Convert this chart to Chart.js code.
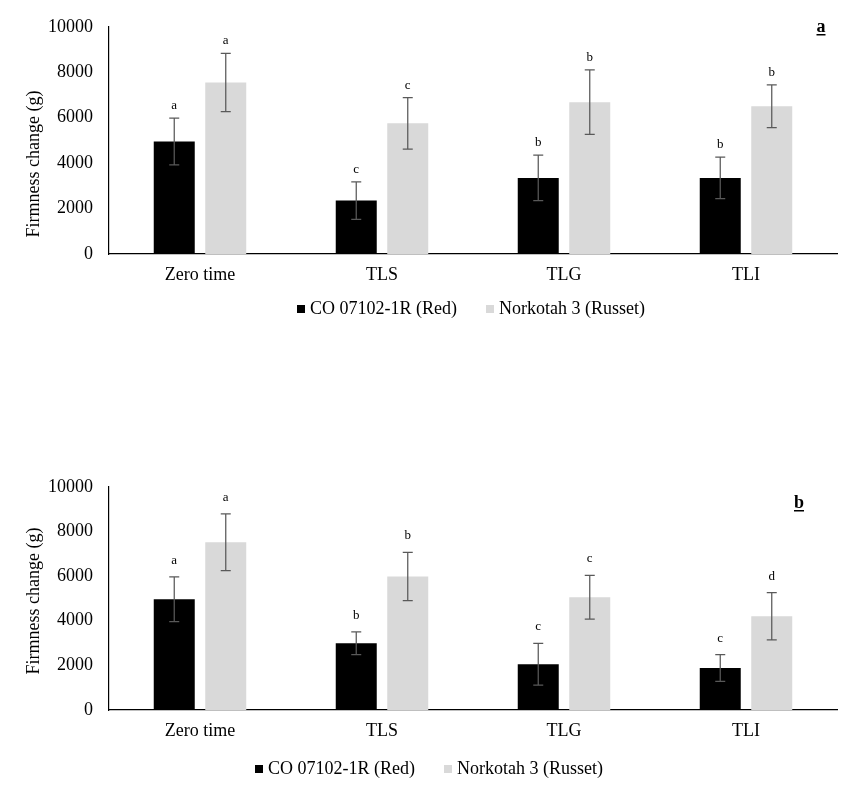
<!DOCTYPE html>
<html>
<head>
<meta charset="utf-8">
<script src="https://cdn.jsdelivr.net/npm/chart.js@4.4.1/dist/chart.umd.min.js"></script>
<style>
  body { margin: 0; background: #fff; }
  .wrap { position: absolute; left: 0; width: 855px; }
  #boxA { top: 0; height: 330px; }
  #boxB { top: 460px; height: 325px; }
</style>
</head>
<body>
<div class="wrap" id="boxA"><canvas id="chartA" width="855" height="330"></canvas></div>
<div class="wrap" id="boxB"><canvas id="chartB" width="855" height="325"></canvas></div>
<script>
const categories = ['Zero time', 'TLS', 'TLG', 'TLI'];
const seriesNames = ['CO 07102-1R (Red)', 'Norkotah 3 (Russet)'];
const yTicks = [0, 2000, 4000, 6000, 8000, 10000];

// panel a
const redA = [4950, 2350, 3350, 3350];
const redErrA = [1025, 830, 1000, 915];
const russetA = [7550, 5750, 6680, 6500];
const russetErrA = [1280, 1130, 1420, 940];
const redLettersA = ['a', 'c', 'b', 'b'];
const russetLettersA = ['a', 'c', 'b', 'b'];

// panel b
const redB = [4960, 2990, 2050, 1880];
const redErrB = [1000, 510, 940, 600];
const russetB = [7520, 5980, 5050, 4200];
const russetErrB = [1270, 1080, 980, 1060];
const redLettersB = ['a', 'b', 'c', 'c'];
const russetLettersB = ['a', 'b', 'c', 'd'];

const FONT = "'Liberation Serif', 'Times New Roman', serif";

const extras = {
    id: 'extras',
    afterDraw(chart, args, o) {
        const ctx = chart.ctx;
        const y = chart.scales.y;
        ctx.save();
        // error bars + letters
        chart.data.datasets.forEach((ds, di) => {
            const meta = chart.getDatasetMeta(di);
            meta.data.forEach((bar, i) => {
                const v = ds.data[i], e = ds.errors[i];
                const yt = y.getPixelForValue(v + e);
                const yb = y.getPixelForValue(v - e);
                ctx.strokeStyle = '#595959';
                ctx.lineWidth = 1.25;
                ctx.beginPath();
                ctx.moveTo(bar.x, yt); ctx.lineTo(bar.x, yb);
                ctx.moveTo(bar.x - 5, yt); ctx.lineTo(bar.x + 5, yt);
                ctx.moveTo(bar.x - 5, yb); ctx.lineTo(bar.x + 5, yb);
                ctx.stroke();
                ctx.fillStyle = '#000';
                ctx.font = '13px ' + FONT;
                ctx.textAlign = 'center';
                ctx.textBaseline = 'alphabetic';
                ctx.fillText(ds.letters[i], bar.x, yt - o.letterGap);
            });
        });
        // y title
        ctx.save();
        ctx.translate(o.titleX, o.titleY);
        ctx.rotate(-Math.PI / 2);
        ctx.font = '18px ' + FONT;
        ctx.fillStyle = '#000';
        ctx.textAlign = 'center';
        ctx.textBaseline = 'middle';
        ctx.fillText('Firmness change (g)', 0, 0);
        ctx.restore();
        // panel letter
        ctx.font = 'bold 18px ' + FONT;
        ctx.textAlign = 'center';
        ctx.textBaseline = 'alphabetic';
        ctx.fillText(o.panel, o.panelX, o.panelY);
        const pw = ctx.measureText(o.panel).width;
        ctx.fillRect(o.panelX - pw / 2, o.panelY + 2, pw, 1.5);
        // legend
        ctx.font = '18px ' + FONT;
        ctx.textAlign = 'left';
        ctx.textBaseline = 'middle';
        let x = o.legendX;
        chart.data.datasets.forEach((ds) => {
            ctx.fillStyle = ds.backgroundColor;
            ctx.fillRect(x, o.legendY - 4, 8, 8);
            ctx.fillStyle = '#000';
            ctx.fillText(ds.label, x + 13, o.legendY);
            x += 13 + ctx.measureText(ds.label).width + 29;
        });
        ctx.restore();
    }
};

function makeChart(id, red, redErr, russet, russetErr, redL, russetL, opts) {
    const H = document.getElementById(id).height;
    return new Chart(document.getElementById(id), {
        type: 'bar',
        data: {
            labels: categories,
            datasets: [{
                label: seriesNames[0],
                data: red,
                errors: redErr,
                letters: redL,
                backgroundColor: '#000000',
                categoryPercentage: 0.566,
                barPercentage: 0.796
            }, {
                label: seriesNames[1],
                data: russet,
                errors: russetErr,
                letters: russetL,
                backgroundColor: '#d9d9d9',
                categoryPercentage: 0.566,
                barPercentage: 0.796
            }]
        },
        options: {
            responsive: false,
            animation: false,
            layout: { padding: { top: opts.top, right: 18, left: 0, bottom: 0 } },
            plugins: {
                legend: { display: false },
                tooltip: { enabled: false },
                extras: opts
            },
            scales: {
                x: {
                    grid: { display: false, drawTicks: false },
                    border: { display: true, color: '#000', width: 1.2 },
                    ticks: { color: '#000', font: { family: FONT, size: 18 }, padding: 10 },
                    afterFit: s => { s.height = H - opts.bottom; }
                },
                y: {
                    min: 0,
                    max: 10000,
                    grid: { display: false, drawTicks: false },
                    border: { display: true, color: '#000', width: 1.2 },
                    afterBuildTicks: s => { s.ticks = yTicks.map(v => ({ value: v })); },
                    ticks: { color: '#000', font: { family: FONT, size: 18 }, padding: 16,
                             callback: v => String(v) },
                    afterFit: s => { s.width = 109; }
                }
            }
        },
        plugins: [extras]
    });
}

makeChart('chartA', redA, redErrA, russetA, russetErrA, redLettersA, russetLettersA, {
    top: 25, bottom: 254, letterGap: 9, titleX: 34, titleY: 164,
    panel: 'a', panelX: 821, panelY: 32, legendX: 297, legendY: 309
});
makeChart('chartB', redB, redErrB, russetB, russetErrB, redLettersB, russetLettersB, {
    top: 26, bottom: 250, letterGap: 13, titleX: 34, titleY: 141,
    panel: 'b', panelX: 799, panelY: 48, legendX: 255, legendY: 309
});
</script>
</body>
</html>
